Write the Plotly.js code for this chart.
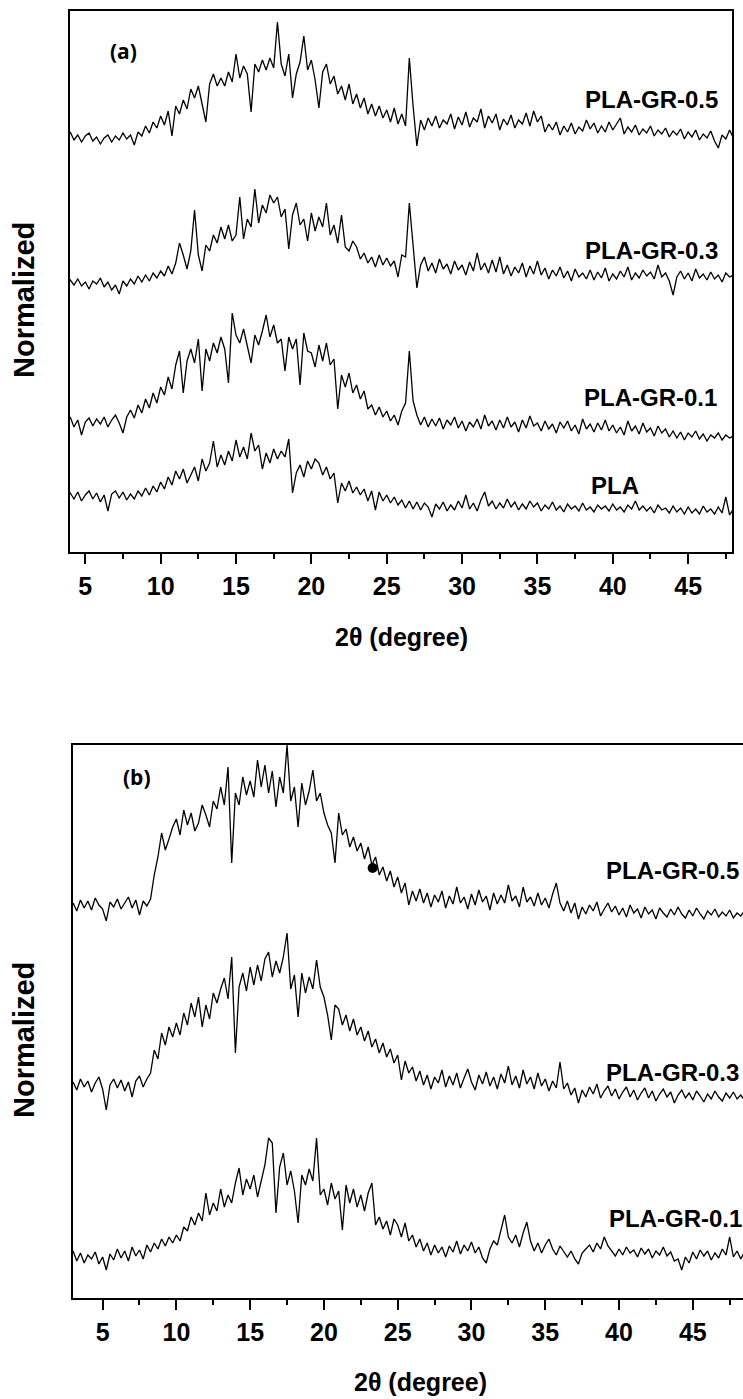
<!DOCTYPE html>
<html>
<head>
<meta charset="utf-8">
<script src="https://cdn.plot.ly/plotly-3.0.1.min.js"></script>
<style>
html,body{margin:0;padding:0;background:#fff;overflow:hidden;}
#chart{width:790px;height:1399px;}
</style>
</head>
<body>
<div id="chart"></div>
<script>
// 2-theta sampling grid (degree)
const twoTheta = [3,3.25,3.5,3.75,4,4.25,4.5,4.75,5,5.25,5.5,5.75,6,6.25,6.5,6.75,7,7.25,7.5,7.75,8,8.25,8.5,8.75,9,9.25,9.5,9.75,10,10.25,10.5,10.75,11,11.25,11.5,11.75,12,12.25,12.5,12.75,13,13.25,13.5,13.75,14,14.25,14.5,14.75,15,15.25,15.5,15.75,16,16.25,16.5,16.75,17,17.25,17.5,17.75,18,18.25,18.5,18.75,19,19.25,19.5,19.75,20,20.25,20.5,20.75,21,21.25,21.5,21.75,22,22.25,22.5,22.75,23,23.25,23.5,23.75,24,24.25,24.5,24.75,25,25.25,25.5,25.75,26,26.25,26.5,26.75,27,27.25,27.5,27.75,28,28.25,28.5,28.75,29,29.25,29.5,29.75,30,30.25,30.5,30.75,31,31.25,31.5,31.75,32,32.25,32.5,32.75,33,33.25,33.5,33.75,34,34.25,34.5,34.75,35,35.25,35.5,35.75,36,36.25,36.5,36.75,37,37.25,37.5,37.75,38,38.25,38.5,38.75,39,39.25,39.5,39.75,40,40.25,40.5,40.75,41,41.25,41.5,41.75,42,42.25,42.5,42.75,43,43.25,43.5,43.75,44,44.25,44.5,44.75,45,45.25,45.5,45.75,46,46.25,46.5,46.75,47,47.25,47.5,47.75,48,48.25,48.5,48.75,49,49.25,49.5];

// Panel (a) series names and intensities (arbitrary units, relative to own baseline)
const namesA = ["PLA-GR-0.5","PLA-GR-0.3","PLA-GR-0.1","PLA"];
const pla_gr05_a = [8,3,10,5,12,4,9,2,8,11,3,7,0,6,9,2,8,4,11,5,9,-1,12,8,18,11,22,16,28,19,33,8,38,30,44,35,55,46,58,40,22,60,70,58,66,58,72,62,90,66,78,70,32,80,72,84,74,86,76,122,80,68,90,46,70,82,108,74,84,64,36,72,80,60,68,50,58,44,60,40,50,36,46,30,40,28,38,26,34,22,36,20,30,18,86,38,-2,24,14,26,18,28,16,24,20,30,15,27,19,32,17,26,22,35,16,28,21,30,14,25,19,29,16,24,20,31,18,33,22,28,12,20,14,22,9,18,12,21,10,17,13,24,15,21,11,18,12,22,14,20,26,10,17,12,19,9,15,11,18,8,14,10,16,7,13,9,15,5,12,7,14,4,10,6,13,3,-4,9,5,14,6,10,4,9,5,8,6];
const pla_gr03_a = [2,-3,4,-2,5,0,6,-1,3,-4,4,1,7,-2,3,-5,0,-9,4,-1,6,1,9,3,10,4,12,7,14,9,19,11,22,42,30,16,34,75,30,14,40,34,50,42,58,46,60,44,50,88,46,66,58,96,62,80,72,90,82,88,68,76,36,70,82,60,66,44,72,54,68,58,82,50,60,42,70,38,34,44,38,26,32,22,28,18,30,20,27,19,24,8,30,28,82,40,-3,20,28,14,22,12,26,16,21,11,24,15,20,10,23,14,32,15,22,12,25,13,28,11,20,9,18,12,22,8,19,11,24,10,17,6,15,9,18,7,14,4,16,8,12,6,15,5,13,7,17,4,11,6,14,8,18,5,12,7,15,9,13,6,20,8,12,4,-10,8,14,6,12,4,16,7,11,5,13,6,10,3,12,8,10,5,9,6,8,4,7];
const pla_gr01_a = [2,-5,4,-2,6,-4,3,-12,1,5,-3,4,-1,6,-4,3,8,0,-10,6,13,5,18,10,24,15,30,20,36,28,46,34,58,72,30,62,74,60,84,32,74,62,80,70,86,74,40,110,88,80,94,76,60,88,78,92,108,86,98,80,84,52,86,74,84,38,90,72,70,56,78,62,80,58,64,14,48,36,50,30,38,24,32,14,18,8,16,6,12,2,8,-2,12,20,72,22,8,-2,6,-4,4,-3,5,-6,3,-2,6,-5,2,-8,1,-4,4,-6,8,-3,2,-7,3,-5,6,-4,1,-9,3,-5,7,-3,0,-8,2,-6,-1,-10,1,-5,2,-8,-2,-11,4,-6,-1,-9,0,-7,3,-8,-2,-10,-4,-12,2,-8,-3,-11,0,-9,-5,-13,-3,-10,-6,-14,-8,-15,-9,-17,-10,-14,-8,-16,-11,-18,-12,-15,-10,-17,-12,-15,-13,-16,-12,-15,-13,-16,-14];
const pla_a = [1,-4,3,-3,4,-2,5,-4,2,6,-2,4,-5,2,-14,3,6,-1,5,-3,3,-2,6,1,9,2,11,5,15,8,20,12,26,18,28,14,22,30,16,38,26,34,56,30,42,32,46,36,57,40,50,38,64,46,52,28,44,34,48,38,46,40,58,4,24,32,20,36,28,38,34,22,30,18,24,-6,14,6,16,4,10,2,8,-4,6,-13,5,-4,2,-6,0,-8,-3,-11,-4,-12,-5,-13,-6,-10,-20,-7,-12,-5,-14,-8,-13,-4,-11,2,-12,-6,-14,-3,5,-9,-4,-12,-6,-11,-2,-10,-5,-13,-7,-12,-4,-10,-6,-14,-8,-12,-5,-13,-9,-15,-7,-12,-9,-14,-6,-13,-10,-15,-8,-12,-9,-14,-7,-13,-10,-15,-8,-12,-4,-13,-9,-14,-10,-16,-8,-13,-11,-16,-9,-15,-11,-17,-10,-16,-12,-17,-9,-15,-12,-17,-10,-16,0,-18,-12,-15,-11,-14,-12,-15,-13];
const offsetsA = [408, 267, 129, 55];

// Panel (b)
const namesB = ["PLA-GR-0.5","PLA-GR-0.3","PLA-GR-0.1"];
const pla_gr05_b = [2,-6,5,-3,4,-5,7,0,-4,-16,3,-2,6,-4,2,8,-3,5,-10,4,-1,6,30,48,72,55,66,78,86,70,95,80,92,74,82,100,90,78,104,96,118,100,138,42,112,100,128,110,124,108,145,118,140,112,134,98,128,112,160,104,118,78,122,100,114,135,104,112,92,80,72,42,92,70,76,58,68,54,62,46,58,40,48,30,38,24,34,18,28,12,22,0,14,4,16,2,12,-2,10,3,14,-3,9,1,18,2,8,-4,11,0,15,3,9,-5,12,1,10,2,20,4,9,-2,18,3,8,-1,12,0,7,-3,11,22,2,-6,4,-8,2,-14,-2,-9,0,-6,3,-11,-4,2,-7,-1,-10,-3,-12,0,-8,-4,-13,-2,-9,-5,-14,-3,-8,-12,-4,-10,-2,-9,-13,-5,-11,-3,-9,-14,-6,-10,-4,-12,-7,-11,-5,-13,-8,-11,-6,-12,-8,-10,-7];
const pla_gr03_b = [3,-5,6,-2,4,-7,2,8,-4,-25,0,6,-3,5,-6,3,-12,4,9,-2,6,12,35,26,52,40,58,48,62,50,72,60,82,68,88,58,80,66,92,82,96,107,86,128,32,98,112,94,118,100,120,104,126,133,108,124,112,128,152,96,110,68,112,92,108,96,125,98,88,70,45,80,76,60,70,54,66,50,58,44,54,38,46,32,42,28,36,22,30,5,24,12,18,4,14,0,10,-4,8,2,15,-2,9,0,12,-3,7,16,3,-5,10,1,13,-1,8,-4,11,2,19,0,9,-3,15,1,8,-4,12,-1,6,-6,4,-3,23,-4,2,-10,-3,-18,-5,-12,-2,-9,1,-13,-6,-1,-11,-4,-14,-7,-2,-12,-5,-15,-8,-3,-13,-6,-16,-9,-4,-12,-7,-18,-10,-5,-13,-8,-15,-6,-11,-17,-9,-14,-6,-12,-16,-8,-13,-7,-14,-10,-15,-9,-13,-11,-12];
const pla_gr01_b = [4,-6,2,-8,0,-4,3,-9,-2,-15,1,-5,6,-3,4,-6,8,-1,5,-4,10,3,12,6,16,9,18,12,20,14,28,24,38,30,42,34,62,40,52,44,66,48,60,52,72,87,60,76,66,80,58,74,90,117,112,42,88,102,70,84,64,32,80,70,86,74,117,60,66,50,72,56,64,25,70,52,66,48,60,44,62,72,30,38,26,34,20,36,30,18,32,14,20,8,16,4,12,0,10,2,8,-2,9,3,14,1,10,4,13,2,8,-3,-8,6,14,10,24,40,18,12,20,8,22,33,14,4,12,2,10,16,6,0,9,3,-2,4,-4,-9,2,6,10,3,12,6,18,9,4,-1,6,0,8,2,5,-2,7,1,6,-3,4,0,8,-1,3,-6,-4,-15,-2,-8,3,-4,5,-1,4,-5,2,-3,6,0,18,-2,4,-4,3,-5,2,-3,1];
const offsetsB = [393, 213, 43];

// isolated filled dot on the PLA-GR-0.5 (b) trace
const dotTheta = [23.3];
const dotIntensity = [37];

const seriesA = [pla_gr05_a, pla_gr03_a, pla_gr01_a, pla_a];
const seriesB = [pla_gr05_b, pla_gr03_b, pla_gr01_b];

const W = 790, H = 1399;
const px = v => v / W;
const py = v => 1 - v / H;

const traces = [];
seriesA.forEach((s, k) => {
  traces.push({x: twoTheta, y: s.map(v => v + offsetsA[k]), type: 'scatter', mode: 'lines',
    name: namesA[k], xaxis: 'x', yaxis: 'y', line: {color: '#000', width: 1.3}, showlegend: false});
});
seriesB.forEach((s, k) => {
  traces.push({x: twoTheta, y: s.map(v => v + offsetsB[k]), type: 'scatter', mode: 'lines',
    name: namesB[k], xaxis: 'x2', yaxis: 'y2', line: {color: '#000', width: 1.3}, showlegend: false});
});
traces.push({x: dotTheta, y: dotIntensity.map(v => v + offsetsB[0]), type: 'scatter', mode: 'markers',
  xaxis: 'x2', yaxis: 'y2', marker: {color: '#000', size: 10}, showlegend: false});

const tickFont = {family: 'Liberation Sans, Arial, sans-serif', size: 25, color: '#000', weight: 'bold'};
function xax(domain, range) {
  return {domain: domain, range: range, showline: true, linecolor: '#000', linewidth: 2, mirror: true,
    ticks: 'outside', ticklen: 10, tickwidth: 2, tickcolor: '#000', tick0: 5, dtick: 5,
    minor: {ticks: 'outside', ticklen: 5, tickwidth: 2, tickcolor: '#000', tick0: 0, dtick: 2.5},
    tickfont: tickFont, ticklabelstandoff: 1, showgrid: false, zeroline: false, fixedrange: true};
}
function yax(domain, range, anchor) {
  return {domain: domain, range: range, showline: true, linecolor: '#000', linewidth: 2, mirror: true,
    ticks: '', showticklabels: false, showgrid: false, zeroline: false, anchor: anchor};
}

const labFont = {family: 'Liberation Sans, Arial, sans-serif', size: 24, color: '#000', weight: 'bold'};
const titleFont = {family: 'Liberation Sans, Arial, sans-serif', size: 25, color: '#000', weight: 'bold'};
const yTitleFont = {family: 'Liberation Sans, Arial, sans-serif', size: 29, color: '#000', weight: 'bold'};
const panelFont = {family: 'Open Sans, sans-serif', size: 21, color: '#000', weight: 'bold'};

function ann(text, x, y, font, xanchor, angle) {
  return {text: text, x: px(x), y: py(y), xref: 'paper', yref: 'paper', showarrow: false,
    xanchor: xanchor || 'center', yanchor: 'middle', font: font, textangle: angle || 0};
}

const annotations = [
  ann('(a)', 123, 51, panelFont),
  ann('PLA-GR-0.5', 720, 99, labFont, 'right'),
  ann('PLA-GR-0.3', 720, 251, labFont, 'right'),
  ann('PLA-GR-0.1', 719, 397, labFont, 'right'),
  ann('PLA', 615, 485, labFont),
  ann('2θ (degree)', 401, 637, titleFont),
  ann('Normalized', 24, 300, yTitleFont, 'center', -90),
  ann('(b)', 137, 777, panelFont),
  ann('PLA-GR-0.5', 741, 870, labFont, 'right'),
  ann('PLA-GR-0.3', 604, 1072, labFont, 'left'),
  ann('PLA-GR-0.1', 607, 1218, labFont, 'left'),
  ann('2θ (degree)', 421, 1382, titleFont),
  ann('Normalized', 24, 1040, yTitleFont, 'center', -90)
];

const layout = {
  width: W, height: H, margin: {l: 0, r: 0, t: 0, b: 0},
  paper_bgcolor: '#fff', plot_bgcolor: '#fff', showlegend: false,
  xaxis: Object.assign(xax([px(70), px(732)], [3.985, 47.91]), {anchor: 'y'}),
  yaxis: yax([py(552), py(11)], [0, 541], 'x'),
  xaxis2: Object.assign(xax([px(72.5), px(759.2)], [2.96, 49.5]), {anchor: 'y2'}),
  yaxis2: yax([py(1298), py(745)], [0, 553], 'x2'),
  annotations: annotations
};

Plotly.newPlot('chart', traces, layout, {staticPlot: true, displayModeBar: false});
</script>
</body>
</html>
